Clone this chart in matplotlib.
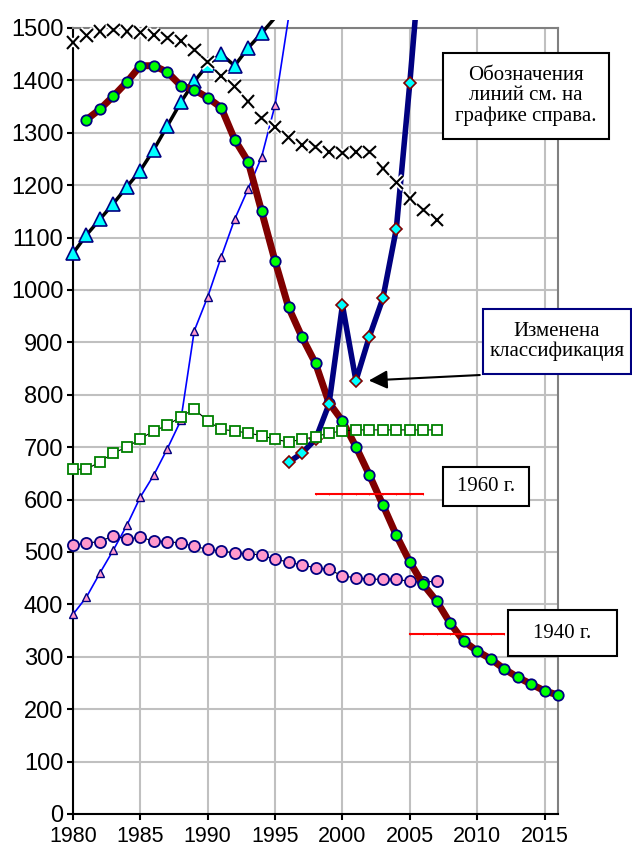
import matplotlib
matplotlib.use('Agg')
import matplotlib.pyplot as plt
import matplotlib.patheffects as pe
from matplotlib.patches import Rectangle
from matplotlib.transforms import Bbox, TransformedBbox

plt.rcParams['font.family'] = ['Liberation Sans', 'DejaVu Sans']

# данные
years_brown = list(range(1981, 2017))
vals_brown = [1325, 1345, 1370, 1397, 1428, 1428, 1416, 1390, 1382, 1367,
              1348, 1287, 1245, 1150, 1055, 967, 910, 860, 785, 750,
              701, 647, 590, 532, 481, 438, 406, 364, 330, 311,
              296, 277, 261, 248, 235, 227]

years_tri = list(range(1980, 1996))
vals_tri = [1070, 1105, 1135, 1165, 1197, 1228, 1268, 1313, 1358, 1398,
            1430, 1450, 1428, 1462, 1490, 1520]

years_x = list(range(1980, 2008))
vals_x = [1472, 1486, 1493, 1496, 1493, 1491, 1487, 1481, 1475, 1458,
          1435, 1408, 1388, 1360, 1328, 1311, 1291, 1277, 1273, 1263,
          1261, 1263, 1263, 1232, 1205, 1175, 1153, 1134]

years_blue = list(range(1980, 1997))
vals_blue = [381, 414, 460, 504, 551, 605, 647, 697, 751, 922,
             987, 1063, 1135, 1193, 1254, 1353, 1520]

years_sq = list(range(1980, 2008))
vals_sq = [658, 658, 672, 689, 700, 716, 731, 742, 758, 773,
           750, 734, 731, 727, 722, 715, 710, 715, 720, 727,
           731, 733, 733, 733, 733, 733, 733, 733]

years_pink = list(range(1980, 2008))
vals_pink = [513, 517, 520, 531, 525, 528, 521, 520, 517, 511,
             505, 502, 498, 497, 494, 486, 481, 475, 470, 467,
             454, 451, 448, 448, 448, 444, 443, 444]

years_navy = list(range(1996, 2007))
vals_navy = [671, 689, 715, 782, 971, 827, 911, 984, 1117, 1395, 1700]

years_1960 = list(range(1998, 2007))
vals_1960 = [610] * len(years_1960)
years_1940 = list(range(2005, 2013))
vals_1940 = [343] * len(years_1940)

x_ticks = list(range(1980, 2016, 5))
y_ticks = list(range(0, 1501, 100))

W, H = 632, 851
fig = plt.figure(figsize=(W / 100, H / 100), dpi=100)
ax = fig.add_axes([73 / W, (H - 814) / H, (558 - 73) / W, (814 - 28) / H])

lines = []
lines += ax.plot(years_blue, vals_blue, color='#0000ff', lw=1.2, marker='^', ms=6,
                 mfc='#ff99cc', mec='#000080', mew=1.0,
                 markevery=[i for i, v in enumerate(vals_blue) if v <= 1500], zorder=3)
lines += ax.plot(years_tri, vals_tri, color='black', lw=2.5, marker='^', ms=9.5,
                 mfc='#00ffff', mec='#000080', mew=1.2,
                 markevery=[i for i, v in enumerate(vals_tri) if v <= 1500], zorder=4)
lines += ax.plot(years_pink, vals_pink, color='black', lw=0.8, marker='o', ms=8,
                 mfc='#ff99cc', mec='#000080', mew=1.3, zorder=4)
lines += ax.plot(years_brown, vals_brown, color='#800000', lw=5, marker='o', ms=7.5,
                 mfc='#00ff00', mec='#000080', mew=1.3, zorder=5)
lines += ax.plot(years_navy, vals_navy, color='#000080', lw=4, marker='D', ms=6.5,
                 mfc='#00ffff', mec='#800000', mew=1.2,
                 markevery=[i for i, v in enumerate(vals_navy) if v <= 1500], zorder=6)
lines += ax.plot(years_x, vals_x, ls='none', marker='x', ms=9, mec='black', mew=1.5, zorder=7,
                 path_effects=[pe.withStroke(linewidth=4, foreground='white')])
lines += ax.plot(years_sq, vals_sq, color='black', lw=0.8, marker='s', ms=7.5,
                 mfc='white', mec='#008000', mew=1.3, zorder=7)
lines += ax.plot(years_1960, vals_1960, color='#ff0000', lw=1.5, marker='|', ms=2,
                 mew=0.5, zorder=7)
lines += ax.plot(years_1940, vals_1940, color='#ff0000', lw=1.5, marker='|', ms=2,
                 mew=0.5, zorder=7)

# Excel режет линии чуть выше области построения, маркеры по краям не режет
clip = TransformedBbox(Bbox([[-0.03, -0.02], [1.03, 1 + 8 / 786]]), ax.transAxes)
for ln in lines:
    ln.set_clip_box(clip)

ax.set_xlim(1980, 2016)
ax.set_ylim(0, 1500)
ax.set_xticks(x_ticks)
ax.set_yticks(y_ticks)
ax.grid(True, color='#c0c0c0', lw=1.5)
ax.set_axisbelow(True)
for s in ['left', 'bottom']:
    ax.spines[s].set_color('black')
    ax.spines[s].set_linewidth(1.5)
    ax.spines[s].set_zorder(2.5)
for s in ['top', 'right']:
    ax.spines[s].set_color('#808080')
    ax.spines[s].set_linewidth(1.5)
    ax.spines[s].set_zorder(2.5)
ax.tick_params(axis='both', direction='out', length=4, width=1.5, colors='black')
ax.tick_params(axis='x', labelsize=15.5, pad=5)
ax.tick_params(axis='y', labelsize=17, pad=3)

# стрелка
ax.annotate('', xy=(2001.75, 827), xytext=(2010.4, 838),
            arrowprops=dict(arrowstyle='-|>', mutation_scale=28, lw=1.5, color='black'),
            zorder=8)


def box(x0, y0, x1, y1, text, ec='black'):
    r = Rectangle((x0 / W, 1 - y1 / H), (x1 - x0) / W, (y1 - y0) / H,
                  transform=fig.transFigure, fc='white', ec=ec, lw=1.5, zorder=10)
    fig.patches.append(r)
    fig.text((x0 + x1) / 2 / W, 1 - (y0 + y1) / 2 / H, text, ha='center', va='center',
             multialignment='center', family='Liberation Serif', fontsize=15,
             linespacing=1.1, zorder=11)


box(443, 53, 609, 139, 'Обозначения\nлиний см. на\nграфике справа.')
box(483, 309, 631, 374, 'Изменена\nклассификация', ec='#000080')
box(443, 467, 529, 506, '1960 г.')
box(508, 610, 617, 656, '1940 г.')

fig.savefig('out.png', dpi=100)
